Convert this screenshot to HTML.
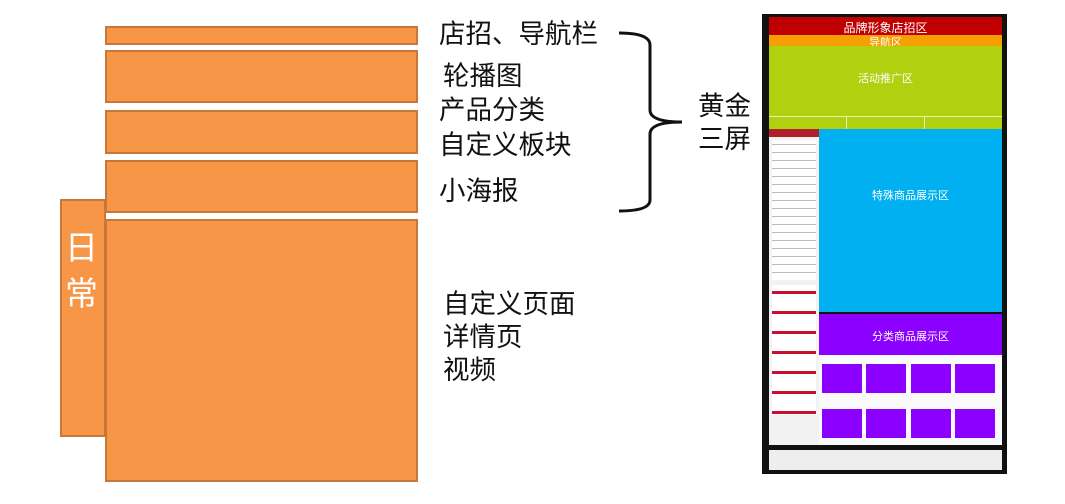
<!DOCTYPE html>
<html><head><meta charset="utf-8"><style>
body{margin:0;width:1065px;height:504px;background:#fff;position:relative;overflow:hidden;font-family:"Liberation Sans","Noto Sans CJK SC",sans-serif}
.o{position:absolute;background:#f79646;border:2px solid #c8773a;box-sizing:border-box}
.t{position:absolute;font-size:26.5px;color:#111;line-height:1;white-space:nowrap}
.a{position:absolute;box-sizing:border-box}
.w{color:#fff;font-size:11px;text-align:center;position:absolute;left:0;right:0}
</style></head><body>
<div class="o" style="left:60px;top:199px;width:46px;height:238px"></div>
<div class="o" style="left:105px;top:26px;width:313px;height:19px"></div>
<div class="o" style="left:105px;top:50px;width:313px;height:53px"></div>
<div class="o" style="left:105px;top:110px;width:313px;height:44px"></div>
<div class="o" style="left:105px;top:160px;width:313px;height:53px"></div>
<div class="o" style="left:105px;top:219px;width:313px;height:263px"></div>
<div class="t" style="left:65px;top:231px;color:#fff;font-size:33px">日</div>
<div class="t" style="left:65px;top:277px;color:#fff;font-size:33px">常</div>
<div class="t" style="left:439px;top:21px">店招、导航栏</div>
<div class="t" style="left:443px;top:63px">轮播图</div>
<div class="t" style="left:439px;top:97px">产品分类</div>
<div class="t" style="left:439px;top:132px">自定义板块</div>
<div class="t" style="left:439px;top:178px">小海报</div>
<div class="t" style="left:698px;top:93px">黄金</div>
<div class="t" style="left:698px;top:126px">三屏</div>
<div class="t" style="left:443px;top:291px">自定义页面</div>
<div class="t" style="left:443px;top:324px">详情页</div>
<div class="t" style="left:443px;top:357px">视频</div>
<svg style="position:absolute;left:0;top:0" width="1065" height="504">
<path d="M619 33 Q650 33 650 45 L650 110 Q650 122 682 122 Q650 122 650 134 L650 200 Q650 211 619 211" fill="none" stroke="#111" stroke-width="3"/>
</svg>
<div class="a" style="left:762px;top:14px;width:245px;height:460px;background:#111"></div>
<div class="a" style="left:769px;top:17px;width:233px;height:18px;background:#c00000"><div class="w" style="top:2px;font-size:12px">品牌形象店招区</div></div>
<div class="a" style="left:769px;top:35px;width:233px;height:11px;background:#f5a000"><div class="w" style="top:-1px">导航区</div></div>
<div class="a" style="left:769px;top:46px;width:233px;height:83px;background:#b0d010"><div class="w" style="top:24px">活动推广区</div>
<div class="a" style="left:0;top:70px;width:233px;height:1px;background:#e8f0b0"></div>
<div class="a" style="left:77px;top:70px;width:1px;height:13px;background:#e8f0b0"></div>
<div class="a" style="left:155px;top:70px;width:1px;height:13px;background:#e8f0b0"></div></div>
<div class="a" style="left:769px;top:129px;width:50px;height:316px;background:#f2f2f2"></div>
<div class="a" style="left:769px;top:129px;width:50px;height:8px;background:#b0202a"></div>
<div class="a" style="left:772px;top:140px;width:44px;height:140px;background:repeating-linear-gradient(#fff 0 4px,#bbb 4px 5px,#fff 5px 8px)"></div>
<div class="a" style="left:772px;top:285px;width:44px;height:130px;background:repeating-linear-gradient(#fff 0 6px,#c8102e 6px 9px,#fff 9px 20px)"></div>
<div class="a" style="left:819px;top:129px;width:183px;height:183px;background:#00b0f0"><div class="w" style="top:58px">特殊商品展示区</div></div>
<div class="a" style="left:819px;top:314px;width:183px;height:41px;background:#8b00ff"><div class="w" style="top:14px">分类商品展示区</div></div>
<div class="a" style="left:819px;top:355px;width:183px;height:90px;background:#fafafa"></div>
<div class="a" style="left:822px;top:364px;width:40px;height:29px;background:#8b00ff"></div>
<div class="a" style="left:866px;top:364px;width:40px;height:29px;background:#8b00ff"></div>
<div class="a" style="left:911px;top:364px;width:40px;height:29px;background:#8b00ff"></div>
<div class="a" style="left:955px;top:364px;width:40px;height:29px;background:#8b00ff"></div>
<div class="a" style="left:822px;top:409px;width:40px;height:29px;background:#8b00ff"></div>
<div class="a" style="left:866px;top:409px;width:40px;height:29px;background:#8b00ff"></div>
<div class="a" style="left:911px;top:409px;width:40px;height:29px;background:#8b00ff"></div>
<div class="a" style="left:955px;top:409px;width:40px;height:29px;background:#8b00ff"></div>
<div class="a" style="left:769px;top:450px;width:233px;height:20px;background:#eee"></div>
</body></html>
